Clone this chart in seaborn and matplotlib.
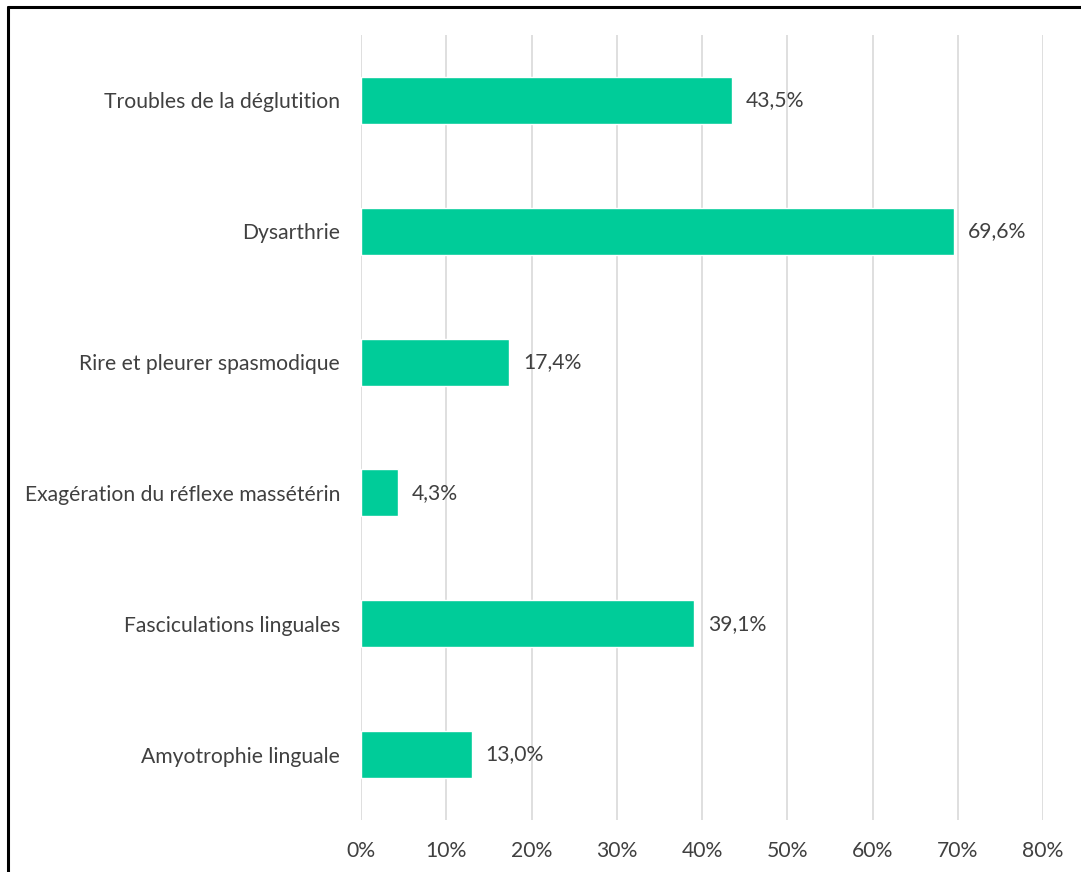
import matplotlib
matplotlib.use("Agg")
import matplotlib.pyplot as plt
import seaborn as sns
import pandas as pd
from matplotlib.lines import Line2D
from matplotlib.ticker import FuncFormatter

categories = [
    "Troubles de la déglutition",
    "Dysarthrie",
    "Rire et pleurer spasmodique",
    "Exagération du réflexe massétérin",
    "Fasciculations linguales",
    "Amyotrophie linguale",
]
values = [43.5, 69.6, 17.4, 4.3, 39.1, 13.0]
labels = ["43,5%", "69,6%", "17,4%", "4,3%", "39,1%", "13,0%"]
xticks = [0, 10, 20, 30, 40, 50, 60, 70, 80]

sns.set_theme(style="white")
plt.rcParams["font.family"] = ["Lato", "DejaVu Sans"]

df = pd.DataFrame({"cat": categories, "val": values})

fig = plt.figure(figsize=(10.81, 8.72), dpi=100)
ax = fig.add_axes([361 / 1081, 1 - 820 / 872, (1043 - 361) / 1081, (820 - 35) / 872])

sns.barplot(data=df, y="cat", x="val", orient="h", color="#00CC99",
            saturation=1, width=0.36, ax=ax)

fs = 15.2
ax.set_xlim(0, 80)
ax.set_ylim(5.5, -0.5)
ax.set_xticks(xticks)
ax.xaxis.set_major_formatter(FuncFormatter(lambda v, p: f"{int(v)}%"))
ax.grid(axis="x", color="#D9D9D9", linewidth=1.2)
ax.grid(axis="y", visible=False)
ax.set_axisbelow(True)
for s in ax.spines.values():
    s.set_visible(False)
ax.set_xlabel("")
ax.set_ylabel("")
ax.tick_params(axis="y", length=0, pad=15, labelsize=fs, labelcolor="#404040")
ax.tick_params(axis="x", length=0, pad=15, labelsize=fs, labelcolor="#404040")

for i, (v, lab) in enumerate(zip(values, labels)):
    ax.annotate(lab, xy=(v, i), xytext=(10, 0), textcoords="offset points",
                va="center", ha="left", fontsize=fs, color="#404040")

fig.add_artist(Line2D([8 / 1081, 8 / 1081], [0, 1 - 7 / 872], transform=fig.transFigure,
                      color="black", linewidth=2.2))
fig.add_artist(Line2D([8 / 1081, 1], [1 - 7 / 872, 1 - 7 / 872], transform=fig.transFigure,
                      color="black", linewidth=2.2))

fig.savefig("out.png", dpi=100, facecolor="white")
